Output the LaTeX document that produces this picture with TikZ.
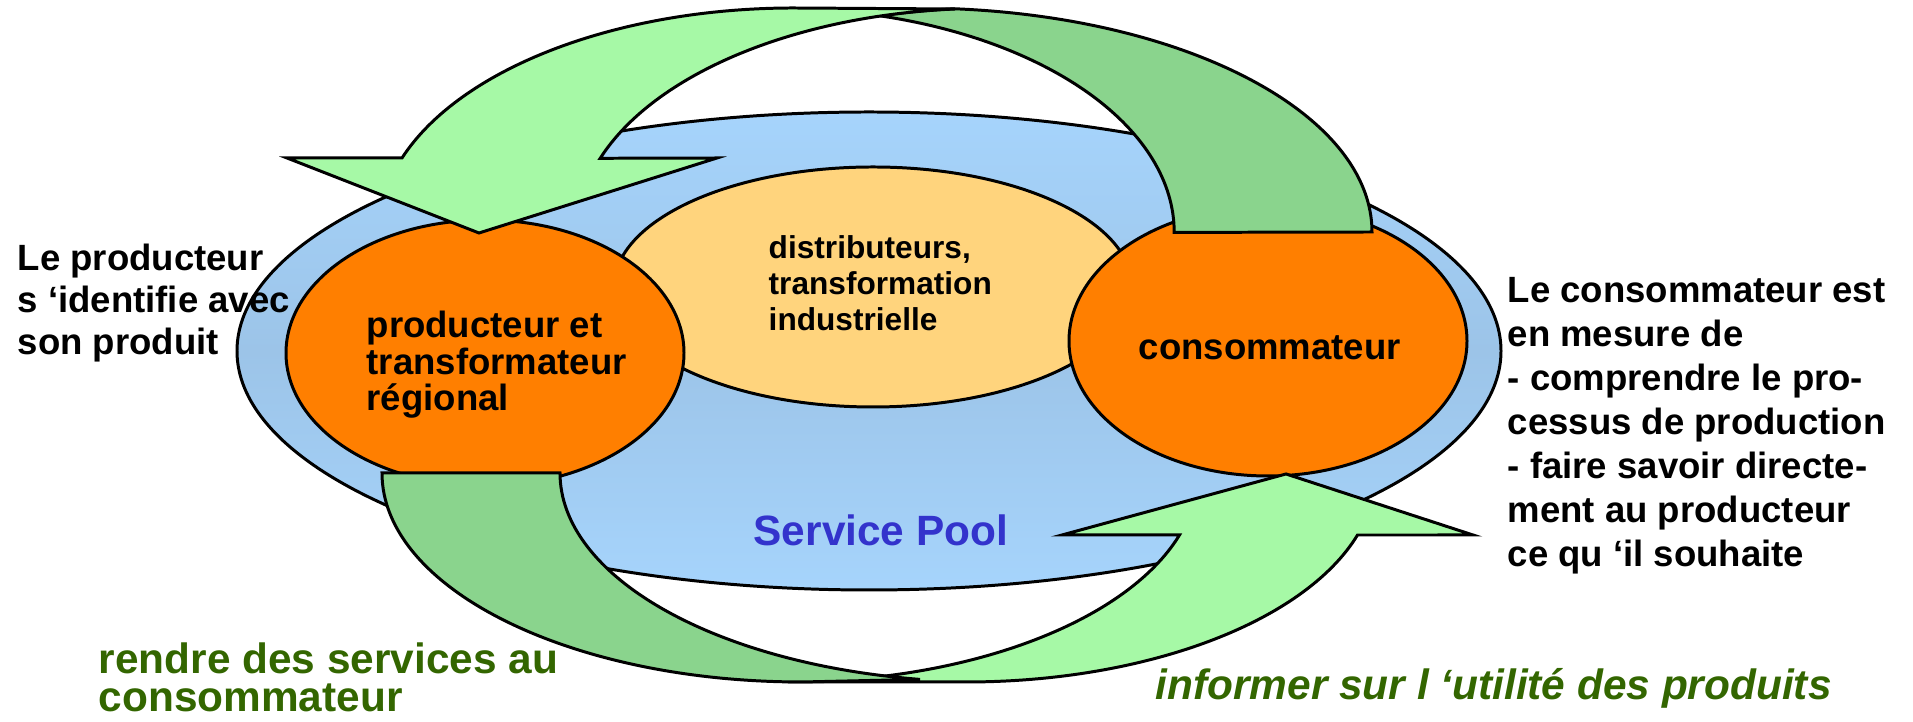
\documentclass[tikz,border=0pt]{standalone}
\usepackage{fontspec}
\setmainfont{Liberation Sans}
\usetikzlibrary{shapes.geometric}
\definecolor{cPool}{HTML}{A6D4FC}
\definecolor{cPoolMid}{HTML}{9CC4E8}
\definecolor{cTrade}{HTML}{FFD47D}
\definecolor{cActor}{HTML}{FF7F00}
\definecolor{cFlowL}{HTML}{A6F9A6}
\definecolor{cFlowD}{HTML}{8AD48D}
\definecolor{cMsg}{HTML}{336600}
\definecolor{cPoolTxt}{HTML}{3333CC}
\newcommand{\fsz}[2]{\fontsize{#1}{#2}\selectfont}

\begin{document}
\begin{tikzpicture}[x=1cm, y=1cm,
  rim/.style={draw, line width=0.85pt, line join=miter},
  pool/.style={rim, ellipse, inner sep=0pt, top color=cPool, bottom color=cPool, middle color=cPoolMid},
  trade/.style={rim, ellipse, inner sep=0pt, fill=cTrade},
  actor/.style={rim, ellipse, inner sep=0pt, fill=cActor},
  flowL/.style={rim, fill=cFlowL},
  flowD/.style={rim, fill=cFlowD},
  txt/.style={inner sep=0pt, align=left, anchor=north west}]
\useasboundingbox (0,0) rectangle (19.13,7.22);
% ---- the pool and the three actors ---------------------------------------------
\node[pool, minimum width=12.64cm, minimum height=4.78cm] (pool) at (8.69,3.71) {};
\node[trade, minimum width=5.18cm, minimum height=2.40cm] (trade) at (8.73,4.35) {};
\node[actor, minimum width=3.98cm, minimum height=2.66cm] (prod) at (4.85,3.69) {};
\node[actor, minimum width=3.98cm, minimum height=2.70cm] (cons) at (12.68,3.81) {};
% ---- top arrow: tail on the consumer, head on the producer ---------------------
\draw[flowD] (13.72,4.90) arc[start angle=0, end angle=85.2, x radius=4.55, y radius=2.24]
  arc[start angle=94.5, end angle=105.13, x radius=4.10, y radius=2.24]
  arc[start angle=75.18, end angle=0, x radius=3.95, y radius=2.24] -- cycle;
\draw[flowL] (2.87,5.64) -- (4.02,5.64) arc[start angle=160.71, end angle=90, x radius=4.15, y radius=2.24]
  -- (9.55,7.13) arc[start angle=94.5, end angle=160.71, x radius=4.10, y radius=2.24]
  -- (7.17,5.64) -- (4.79,4.89) -- cycle;
% ---- bottom arrow: tail on the producer, head on the consumer ------------------
\draw[flowL] (10.62,1.87) -- (11.795,1.87) arc[start angle=-17.26, end angle=-90, x radius=4.10, y radius=2.09]
  -- (9.66,0.40) arc[start angle=-90, end angle=-17.26, x radius=4.10, y radius=2.09]
  -- (14.73,1.87) -- (12.86,2.48) -- cycle;
\draw[flowD] (3.82,2.49) arc[start angle=180, end angle=270, x radius=4.20, y radius=2.09]
  -- (9.20,0.426) arc[start angle=260.97, end angle=180, x radius=4.27, y radius=2.09] -- cycle;
% ---- texts ----------------------------------------------------------------------
\node[txt, font=\bfseries\fsz{10.4}{10.5}] (prodlabel) at (3.66,4.12) {producteur et\\transformateur\\régional};
\node[inner sep=0pt, anchor=base west, font=\bfseries\fsz{10.4}{12}] (conslabel) at (11.38,3.62) {consommateur};
\node[txt, font=\bfseries\fsz{9}{10.2}] (tradelabel) at (7.68,4.87) {distributeurs,\\transformation\\industrielle};
\node[inner sep=0pt, anchor=base west, text=cPoolTxt, font=\bfseries\fsz{12.06}{14}] (poollabel) at (7.53,1.76) {Service Pool};
\node[txt, font=\bfseries\fsz{10.4}{12}] (prodnote) at (0.17,4.79) {Le producteur\\s ‘identifie avec\\son produit};
\node[txt, font=\bfseries\fsz{10.4}{12.5}] (consnote) at (15.07,4.45) {Le consommateur est\\en mesure de\\- comprendre le pro-\\cessus de production\\- faire savoir directe-\\ment au producteur\\ce qu ‘il souhaite};
\node[txt, text=cMsg, font=\bfseries\fsz{12.06}{10.8}] (servemsg) at (0.98,0.80) {rendre des services au\\consommateur};
\node[inner sep=0pt, anchor=base west, text=cMsg, font=\bfseries\itshape\fsz{12.06}{14}] (infomsg) at (11.55,0.22) {informer sur l ‘utilité des produits};
\end{tikzpicture}
\end{document}
